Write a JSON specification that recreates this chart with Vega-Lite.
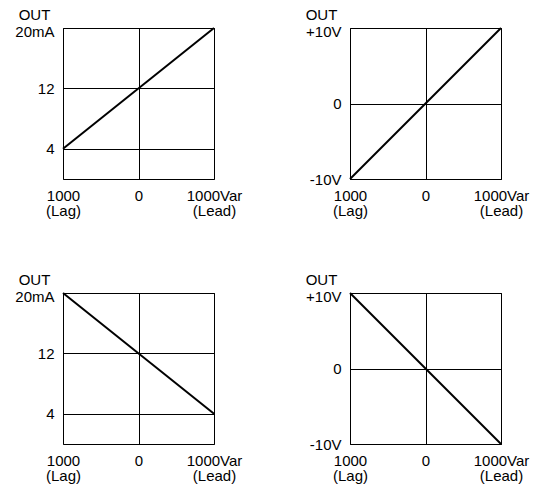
{
  "$schema": "https://vega.github.io/schema/vega-lite/v6.json",
  "padding": {"left": 14, "top": 6, "right": 5, "bottom": 0},
  "background": "white",
  "datasets": {
    "a": [{"x": -1000, "y": 4}, {"x": 1000, "y": 20}],
    "b": [{"x": -1000, "y": -10}, {"x": 1000, "y": 10}],
    "c": [{"x": -1000, "y": 20}, {"x": 1000, "y": 4}],
    "d": [{"x": -1000, "y": 10}, {"x": 1000, "y": -10}]
  },
  "columns": 2,
  "spacing": {"row": 114, "column": 136},
  "bounds": "flush",
  "concat": [
    {
      "width": 151, "height": 151,
      "data": {"name": "a"},
      "mark": {"type": "line", "color": "black", "strokeWidth": 2},
      "encoding": {
        "x": {"field": "x", "type": "quantitative", "scale": {"domain": [-1000, 1000], "nice": false, "zero": false},
              "axis": {"title": null, "values": [-1000, 0, 1000], "labelExpr": "datum.value == -1000 ? ['1000', '(Lag)'] : datum.value == 1000 ? ['1000Var', '(Lead)'] : '0'"}},
        "y": {"field": "y", "type": "quantitative", "scale": {"domain": [0, 20], "nice": false, "zero": false},
              "axis": {"title": "OUT", "values": [4, 12, 20], "labelExpr": "datum.value == 20 ? '20mA' : datum.label",
                       "labelOffset": {"condition": {"test": "datum.value == 20", "value": 3}, "value": 0}}}
      }
    },
    {
      "width": 151, "height": 151,
      "data": {"name": "b"},
      "mark": {"type": "line", "color": "black", "strokeWidth": 2},
      "encoding": {
        "x": {"field": "x", "type": "quantitative", "scale": {"domain": [-1000, 1000], "nice": false, "zero": false},
              "axis": {"title": null, "values": [-1000, 0, 1000], "labelExpr": "datum.value == -1000 ? ['1000', '(Lag)'] : datum.value == 1000 ? ['1000Var', '(Lead)'] : '0'"}},
        "y": {"field": "y", "type": "quantitative", "scale": {"domain": [-10, 10], "nice": false, "zero": false},
              "axis": {"title": "OUT", "values": [-10, 0, 10], "labelExpr": "datum.value == 10 ? '+10V' : datum.value == -10 ? '-10V' : '0'",
                       "labelOffset": {"condition": {"test": "datum.value == 10", "value": 3}, "value": 0}}}
      }
    },
    {
      "width": 151, "height": 151,
      "data": {"name": "c"},
      "mark": {"type": "line", "color": "black", "strokeWidth": 2},
      "encoding": {
        "x": {"field": "x", "type": "quantitative", "scale": {"domain": [-1000, 1000], "nice": false, "zero": false},
              "axis": {"title": null, "values": [-1000, 0, 1000], "labelExpr": "datum.value == -1000 ? ['1000', '(Lag)'] : datum.value == 1000 ? ['1000Var', '(Lead)'] : '0'"}},
        "y": {"field": "y", "type": "quantitative", "scale": {"domain": [0, 20], "nice": false, "zero": false},
              "axis": {"title": "OUT", "values": [4, 12, 20], "labelExpr": "datum.value == 20 ? '20mA' : datum.label",
                       "labelOffset": {"condition": {"test": "datum.value == 20", "value": 3}, "value": 0}}}
      }
    },
    {
      "width": 151, "height": 151,
      "data": {"name": "d"},
      "mark": {"type": "line", "color": "black", "strokeWidth": 2},
      "encoding": {
        "x": {"field": "x", "type": "quantitative", "scale": {"domain": [-1000, 1000], "nice": false, "zero": false},
              "axis": {"title": null, "values": [-1000, 0, 1000], "labelExpr": "datum.value == -1000 ? ['1000', '(Lag)'] : datum.value == 1000 ? ['1000Var', '(Lead)'] : '0'"}},
        "y": {"field": "y", "type": "quantitative", "scale": {"domain": [-10, 10], "nice": false, "zero": false},
              "axis": {"title": "OUT", "values": [-10, 0, 10], "labelExpr": "datum.value == 10 ? '+10V' : datum.value == -10 ? '-10V' : '0'",
                       "labelOffset": {"condition": {"test": "datum.value == 10", "value": 3}, "value": 0}}}
      }
    }
  ],
  "config": {
    "view": {"stroke": "black", "strokeWidth": 1},
    "axis": {
      "grid": true, "gridColor": "black", "gridOpacity": 1, "gridWidth": 1,
      "domain": false, "ticks": false,
      "labelFont": "Liberation Sans", "labelFontSize": 15, "labelColor": "black",
      "labelOverlap": false, "labelFlush": false, "labelBound": false,
      "titleFont": "Liberation Sans", "titleFontSize": 15, "titleFontWeight": "normal", "titleColor": "black"
    },
    "axisX": {"labelPadding": 9, "labelLineHeight": 15},
    "axisY": {"labelPadding": 9, "titleAngle": 0, "titleAlign": "center", "titleBaseline": "alphabetic", "titleX": -29, "titleY": -9}
  }
}
